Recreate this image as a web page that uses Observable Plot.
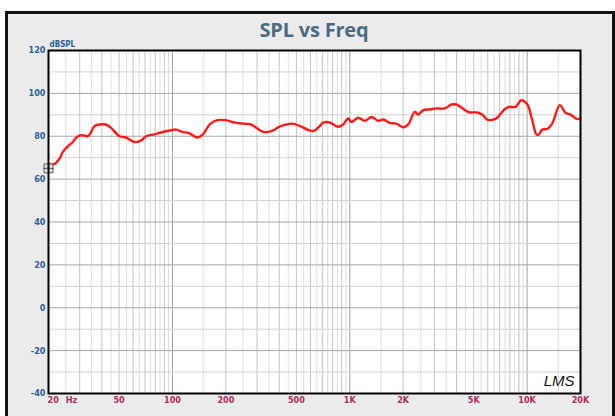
<!DOCTYPE html>
<html>
<head>
<meta charset="utf-8">
<script src="https://cdn.jsdelivr.net/npm/d3@7"></script>
<script src="https://cdn.jsdelivr.net/npm/@observablehq/plot@0.6"></script>
<style>
html, body { margin: 0; padding: 0; width: 615px; height: 416px; overflow: hidden; background: #fff; }
#panel { position: absolute; left: 5px; top: 11px; width: 604px; height: 420px; border: 3px solid #111; background: #ebebeb; }
#title { position: absolute; left: 0; width: 628px; top: 20px; margin: 0; text-align: center;
  font: bold 20px/20px "Open Sans", sans-serif; color: #4b6b84; z-index: 2; letter-spacing: -0.2px; }
#chart { position: absolute; left: 0; top: 0; z-index: 1; }
</style>
</head>
<body>
<div id="panel"></div>
<h1 id="title">SPL vs Freq</h1>
<div id="chart"></div>
<script>
// Frequency response (Hz) and level (dB SPL)
const freq = [
  20, 21.6, 23.1, 24.1, 25.7, 27.4, 29.3, 31.2, 33.3, 34.8,
  36.3, 40.5, 43.2, 46.1, 50.3, 54.9, 61.1, 66.7, 71.1, 79.2,
  88.2, 98.4, 105, 114, 124, 138, 147, 164, 179, 199,
  222, 253, 276, 301, 327, 365, 407, 474, 527, 587,
  627, 684, 708, 772, 861, 918, 980, 1023, 1116, 1215,
  1326, 1446, 1544, 1682, 1834, 2001, 2136, 2326, 2431, 2595,
  2827, 3083, 3434, 3746, 3998, 4212, 4692, 5231, 5582, 5956,
  6634, 7390, 7882, 8603, 9262, 10012, 10684, 11298, 11642, 12163,
  12980, 13850, 15284, 16464, 17566, 19164, 20000
];
const spl = [
  67, 67, 69.6, 72.7, 75.3, 77.3, 80, 80.5, 80, 82,
  84.7, 85.6, 85.1, 83.1, 80, 79.4, 77.3, 78.1, 80, 80.9,
  82, 82.8, 83.1, 82, 81.5, 79.4, 80.5, 85.9, 87.5, 87.5,
  86.5, 85.8, 85.6, 83.6, 82, 82.5, 84.7, 85.9, 84.7, 82.8,
  82.5, 85.1, 86.4, 86.4, 84.4, 85.5, 88.3, 86.7, 88.6, 87.2,
  89, 87.2, 87.8, 86.2, 85.9, 84.2, 85.5, 91.4, 90.1, 92.2,
  92.5, 93, 93, 94.8, 94.8, 93.7, 91.2, 91.1, 90.1, 87.8,
  88.1, 92.2, 93.7, 93.7, 96.8, 94.9, 87.5, 80.8, 80.8, 83.1,
  83.4, 85.9, 94.5, 90.9, 90.1, 88, 88.3
];

// Cursor marker
const markerFreq = [20];
const markerDb = [65];

// Axis ticks
const xTicks = [20, 50, 100, 200, 500, 1000, 2000, 5000, 10000, 20000];
const xTickLabels = ["20\u2002\u00a0Hz", "50", "100", "200", "500", "1K", "2K", "5K", "10K", "20K"];
const yTicks = [120, 100, 80, 60, 40, 20, 0, -20, -40];

// Grid lines
const gridDecade = [100, 1000, 10000];
const gridMajor = [30, 40, 50, 60, 70, 80, 90, 200, 300, 400, 500, 600, 700, 800, 900,
  2000, 3000, 4000, 5000, 6000, 7000, 8000, 9000];
const gridMinor = [25, 35, 45, 55, 65, 75, 85, 95, 150, 250, 350, 450, 550, 650, 750, 850, 950,
  1500, 2500, 3500, 4500, 5500, 6500, 7500, 8500, 9500, 15000];
const dbMajor = [100, 80, 60, 40, 20, 0, -20];
const dbMinor = [110, 90, 70, 50, 30, 10, -10, -30];

const blue = "#2b5e9e";
const crimson = "#b12a5c";
const narrow = "'Liberation Sans Narrow', 'DejaVu Sans Condensed', 'Liberation Sans', sans-serif";

const curve = freq.map((f, i) => ({f, db: spl[i]}));
const marker = markerFreq.map((f, i) => ({f, db: markerDb[i]}));

const chart = Plot.plot({
  width: 615,
  height: 416,
  marginLeft: 48,
  marginRight: 35,
  marginTop: 50,
  marginBottom: 23,
  style: {background: "transparent", fontFamily: narrow, overflow: "visible"},
  x: {type: "log", domain: [20, 20000], axis: null},
  y: {domain: [-40, 120], axis: null},
  marks: [
    Plot.frame({fill: "white"}),
    Plot.ruleX(gridMinor, {stroke: "#dedede", strokeWidth: 1}),
    Plot.ruleX(gridMajor, {stroke: "#c4c4c4", strokeWidth: 1}),
    Plot.ruleX(gridDecade, {stroke: "#a2a2a2", strokeWidth: 1}),
    Plot.ruleY(dbMinor, {stroke: "#d2d2d2", strokeWidth: 1}),
    Plot.ruleY(dbMajor, {stroke: "#a6a6a6", strokeWidth: 1}),
    Plot.line(curve, {x: "f", y: "db", stroke: "#ff1a1a", strokeWidth: 2.4, curve: "catmull-rom"}),
    Plot.dot(marker, {x: "f", y: "db", symbol: "square", r: 5, stroke: "#555", strokeWidth: 1, fill: "#e4e4e4"}),
    Plot.dot(marker, {x: "f", y: "db", symbol: "plus", r: 3.5, stroke: "#555", strokeWidth: 1}),
    Plot.dot(marker, {x: "f", y: "db", r: 1.6, fill: "#19c3d6", stroke: "none"}),
    Plot.frame({stroke: "#000", strokeWidth: 2}),
    Plot.text(yTicks, {y: d => d, text: d => String(d), frameAnchor: "left", textAnchor: "end", dx: -3,
      fill: blue, fontWeight: "bold", fontSize: 9}),
    Plot.text(xTicks.slice(0, 1), {x: d => d, text: (d, i) => xTickLabels[i], frameAnchor: "bottom",
      textAnchor: "start", lineAnchor: "middle", dx: -1, dy: 7, fill: crimson, fontWeight: "bold", fontSize: 9}),
    Plot.text(xTicks.slice(1), {x: d => d, text: (d, i) => xTickLabels[i + 1], frameAnchor: "bottom",
      textAnchor: "middle", lineAnchor: "middle", dy: 7, fill: crimson, fontWeight: "bold", fontSize: 9}),
    Plot.text(["dBSPL"], {text: d => d, frameAnchor: "top-left", textAnchor: "start", lineAnchor: "bottom",
      dx: 1, dy: -4, fill: blue, fontWeight: "bold", fontSize: 8}),
    Plot.text(["LMS"], {text: d => d, frameAnchor: "bottom-right", textAnchor: "end", lineAnchor: "bottom",
      dx: -6, dy: -8, fill: "#111", fontSize: 15, fontStyle: "italic", fontFamily: "'Liberation Sans Narrow', 'Liberation Sans', sans-serif"})
  ]
});
document.getElementById("chart").append(chart);
</script>
</body>
</html>
